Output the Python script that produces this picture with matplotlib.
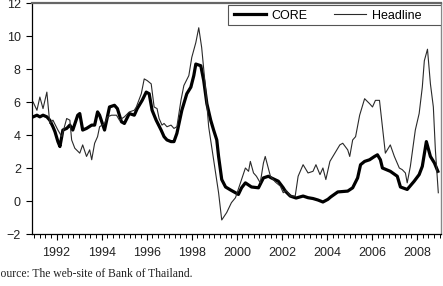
import matplotlib
matplotlib.use("Agg")
import matplotlib.pyplot as plt
from matplotlib.patches import Rectangle
from matplotlib.ticker import MultipleLocator

# values (decimal year, % y/y)
core_year = [1990.96, 1991.13, 1991.26, 1991.40, 1991.57, 1991.70, 1991.84, 1991.93,
             1992.06, 1992.15, 1992.23, 1992.28, 1992.45, 1992.59, 1992.72, 1992.94,
             1993.03, 1993.16, 1993.33, 1993.56, 1993.69, 1993.82, 1993.91, 1994.13,
             1994.35, 1994.57, 1994.70, 1994.88, 1995.01, 1995.23, 1995.45, 1995.58,
             1995.80, 1995.98, 1996.11, 1996.24, 1996.42, 1996.64, 1996.77, 1996.90,
             1997.08, 1997.21, 1997.34, 1997.56, 1997.78, 1997.96, 1998.09, 1998.18,
             1998.40, 1998.53, 1998.67, 1998.84, 1998.97, 1999.11, 1999.19, 1999.33,
             1999.50, 1999.72, 1999.94, 2000.07, 2000.21, 2000.38, 2000.65, 2000.96,
             2001.18, 2001.40, 2001.53, 2001.84, 2002.06, 2002.15, 2002.37, 2002.63,
             2002.94, 2003.16, 2003.38, 2003.60, 2003.82, 2004.04, 2004.17, 2004.48,
             2004.92, 2005.14, 2005.36, 2005.49, 2005.67, 2005.89, 2006.11, 2006.24,
             2006.37, 2006.46, 2006.81, 2007.12, 2007.26, 2007.56, 2007.87, 2008.09,
             2008.23, 2008.41, 2008.59, 2008.77, 2008.92]
core = [5.1, 5.2, 5.1, 5.2, 5.1, 4.9, 4.5, 4.2,
        3.6, 3.3, 3.9, 4.3, 4.4, 4.6, 4.3, 5.2,
        5.3, 4.3, 4.4, 4.6, 4.6, 5.4, 5.2, 4.3,
        5.7, 5.8, 5.6, 4.8, 4.7, 5.3, 5.2, 5.6,
        6.1, 6.6, 6.5, 5.5, 4.9, 4.3, 3.9, 3.7,
        3.6, 3.6, 4.1, 5.5, 6.5, 6.9, 7.6, 8.3,
        8.2, 7.3, 5.9, 4.9, 4.3, 3.7, 2.7, 1.3,
        0.85, 0.67, 0.5, 0.4, 0.8, 1.1, 0.85, 0.8,
        1.4, 1.5, 1.4, 1.2, 0.8, 0.6, 0.3, 0.18,
        0.3, 0.2, 0.15, 0.06, -0.06, 0.1, 0.25, 0.55,
        0.6, 0.8, 1.4, 2.2, 2.4, 2.5, 2.7, 2.8,
        2.5, 2.0, 1.8, 1.5, 0.85, 0.7, 1.2, 1.6,
        2.1, 3.6, 2.7, 2.3, 1.8]

head_year = [1990.96, 1991.13, 1991.26, 1991.40, 1991.57, 1991.70, 1991.84, 1992.06,
             1992.23, 1992.45, 1992.59, 1992.67, 1992.81, 1993.03, 1993.16, 1993.33,
             1993.47, 1993.56, 1993.69, 1993.82, 1993.91, 1994.13, 1994.26, 1994.44,
             1994.66, 1994.79, 1995.01, 1995.23, 1995.45, 1995.54, 1995.76, 1995.89,
             1996.02, 1996.20, 1996.33, 1996.46, 1996.55, 1996.68, 1996.77, 1996.90,
             1997.08, 1997.21, 1997.34, 1997.52, 1997.65, 1997.87, 1998.00, 1998.18,
             1998.31, 1998.44, 1998.62, 1998.75, 1998.97, 1999.19, 1999.33, 1999.55,
             1999.76, 1999.94, 2000.16, 2000.38, 2000.52, 2000.60, 2000.74, 2000.87,
             2001.04, 2001.18, 2001.26, 2001.49, 2001.71, 2001.93, 2002.06, 2002.19,
             2002.37, 2002.59, 2002.72, 2002.94, 2003.16, 2003.38, 2003.51, 2003.69,
             2003.82, 2003.95, 2004.13, 2004.35, 2004.57, 2004.70, 2004.92, 2005.01,
             2005.14, 2005.27, 2005.45, 2005.67, 2005.89, 2006.02, 2006.15, 2006.33,
             2006.46, 2006.59, 2006.81, 2006.99, 2007.21, 2007.34, 2007.48, 2007.56,
             2007.70, 2007.92, 2008.09, 2008.23, 2008.32, 2008.46, 2008.59, 2008.72,
             2008.81, 2008.94]
headline = [6.0, 5.5, 6.3, 5.6, 6.6, 4.7, 4.9, 4.3,
            3.9, 5.0, 4.9, 3.7, 3.2, 2.9, 3.4, 2.7,
            3.1, 2.5, 3.5, 3.9, 4.5, 4.7, 5.1, 5.2,
            5.2, 4.9, 5.1, 5.4, 5.5, 5.7, 6.5, 7.4,
            7.3, 7.1, 5.7, 5.6, 5.0, 4.6, 4.7, 4.5,
            4.6, 4.4, 4.5, 6.1, 7.0, 7.6, 8.7, 9.6,
            10.5, 9.3, 6.7, 4.5, 2.5, 0.5, -1.15, -0.7,
            -0.1, 0.2, 1.1, 2.0, 1.8, 2.4, 1.7, 1.5,
            1.1, 2.3, 2.7, 1.5, 1.15, 0.9, 0.5, 0.65,
            0.3, 0.3, 1.5, 2.2, 1.7, 1.8, 2.2, 1.6,
            2.0, 1.3, 2.4, 2.9, 3.4, 3.5, 3.1, 2.7,
            3.7, 3.9, 5.2, 6.2, 5.9, 5.7, 6.1, 6.1,
            4.5, 2.9, 3.4, 2.7, 2.0, 1.9, 1.7, 1.1,
            2.1, 4.3, 5.3, 6.9, 8.5, 9.2, 7.1, 5.7,
            3.1, 0.5]

year_labels = [1992, 1994, 1996, 1998, 2000, 2002, 2004, 2006, 2008]
source_note = "Source: The web-site of Bank of Thailand."

fig = plt.figure(figsize=(4.43, 2.86), dpi=100)
ax = fig.add_axes([0.0722, 0.1818, 0.9233, 0.8077])

ax.plot(core_year, core, color="black", linewidth=2.3, label="CORE")
ax.plot(head_year, headline, color="#2a2a2a", linewidth=0.8, label="Headline")

ax.set_xlim(1990.91, 2009.06)
ax.set_ylim(-2, 12)
ax.set_yticks(range(-2, 13, 2))
ax.set_xticks(year_labels)
ax.set_xticklabels([str(y) for y in year_labels])
ax.xaxis.set_minor_locator(MultipleLocator(0.25))

for lab in ax.get_xticklabels() + ax.get_yticklabels():
    lab.set_family("Liberation Sans")
    lab.set_fontsize(9)
    lab.set_color("#222222")

ax.tick_params(axis="y", direction="out", length=4, width=0.8, pad=4)
ax.tick_params(axis="x", which="major", direction="out", length=4, width=0.8, pad=5)
ax.tick_params(axis="x", which="minor", direction="out", length=3, width=0.7)

ax.spines["left"].set_color("black")
ax.spines["bottom"].set_color("black")
ax.spines["left"].set_linewidth(0.9)
ax.spines["bottom"].set_linewidth(0.9)
ax.spines["top"].set_color("#666666")
ax.spines["right"].set_color("#888888")
ax.spines["top"].set_linewidth(1.6)
ax.spines["right"].set_linewidth(1.0)

# legend box spans to the right edge of the plot
box = Rectangle((0.479, 0.905), 0.521, 0.087, transform=ax.transAxes,
                facecolor="white", edgecolor="#555555", linewidth=0.8, zorder=4)
ax.add_patch(box)
leg = ax.legend(ncol=2, loc="upper left", bbox_to_anchor=(0.479, 0.995),
                borderaxespad=0, borderpad=0.45, frameon=False,
                handlelength=2.6, handletextpad=0.45, columnspacing=2.1,
                prop={"family": "Liberation Sans", "size": 9})
leg.set_zorder(5)

fig.text(-0.014, 0.03, source_note, family="Liberation Serif", fontsize=8.4,
         ha="left", va="baseline", color="#222222")

fig.savefig("out.png", dpi=100)
